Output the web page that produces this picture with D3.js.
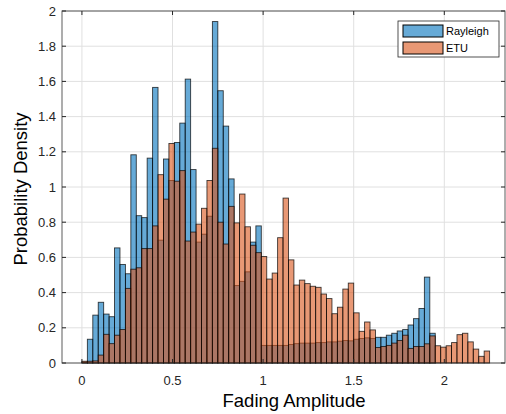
<!DOCTYPE html>
<html>
<head>
<meta charset="utf-8">
<script src="https://cdn.jsdelivr.net/npm/d3@7"></script>
<style>
  html, body { margin: 0; padding: 0; background: #fff; }
  svg { display: block; font-family: "Liberation Sans", Arial, Helvetica, sans-serif; }
</style>
</head>
<body>
<svg id="chart" width="506" height="414"></svg>
<script>
// Histogram bins: edges at k * binWidth, k = 0..75
const binWidth = 0.03;
const binCount = 75;

// Probability density per bin
const rayleigh = [
  0.005, 0.135, 0.272, 0.345, 0.278, 0.263, 0.654, 0.560, 0.507, 1.183,
  0.837, 0.826, 1.164, 1.566, 0.698, 1.159, 1.037, 1.253, 1.363, 1.613,
  1.099, 0.687, 0.732, 0.834, 1.940, 1.547, 1.346, 1.046, 0.440, 0.464,
  0.518, 0.687, 0.779, 0.100, 0.100, 0.100, 0.100, 0.100, 0.105, 0.110,
  0.113, 0.113, 0.113, 0.116, 0.116, 0.120, 0.120, 0.124, 0.128, 0.126,
  0.135, 0.139, 0.143, 0.139, 0.146, 0.146, 0.158, 0.169, 0.182, 0.190,
  0.216, 0.252, 0.310, 0.488, 0.169, 0, 0, 0, 0, 0,
  0, 0, 0, 0, 0
];
const etu = [
  0.010, 0.010, 0.012, 0.045, 0.163, 0.110, 0.158, 0.190, 0.424, 0.533,
  0.541, 0.650, 0.650, 0.779, 1.070, 0.931, 1.247, 1.033, 1.093, 0.693,
  0.744, 0.789, 0.879, 1.037, 1.220, 0.800, 0.676, 0.890, 0.796, 0.960,
  0.774, 0.669, 0.627, 0.605, 0.477, 0.511, 0.712, 0.937, 0.586, 0.443,
  0.471, 0.451, 0.436, 0.430, 0.392, 0.366, 0.280, 0.317, 0.420, 0.454,
  0.285, 0.180, 0.233, 0.188, 0.088, 0.094, 0.100, 0.113, 0.128, 0.158,
  0.083, 0.094, 0.094, 0.109, 0.154, 0.098, 0.090, 0.098, 0.116, 0.161,
  0.169, 0.120, 0.079, 0.038, 0.068
];

const seriesNames = ["Rayleigh", "ETU"];
const seriesColors = ["#0072BD", "#D95319"];
const xTicks = [0, 0.5, 1, 1.5, 2];
const yTicks = [0, 0.2, 0.4, 0.6, 0.8, 1, 1.2, 1.4, 1.6, 1.8, 2];
const xLimits = [-0.11, 2.335];
const yLimits = [0, 2];

const svg = d3.select("#chart");
const plot = { left: 62, right: 505, top: 11, bottom: 363 };

const x = d3.scaleLinear().domain(xLimits).range([plot.left, plot.right]);
const y = d3.scaleLinear().domain(yLimits).range([plot.bottom, plot.top]);

// grid
const grid = svg.append("g");
grid.selectAll("line.gx").data(xTicks).join("line")
  .attr("x1", d => x(d)).attr("x2", d => x(d))
  .attr("y1", plot.top).attr("y2", plot.bottom)
  .attr("stroke", "#e0e0e0").attr("stroke-width", 1);
grid.selectAll("line.gy").data(yTicks).join("line")
  .attr("x1", plot.left).attr("x2", plot.right)
  .attr("y1", d => y(d)).attr("y2", d => y(d))
  .attr("stroke", "#e0e0e0").attr("stroke-width", 1);

// bars: Rayleigh first, ETU drawn over it with transparency
const bins = d3.range(binCount).map(i => ({ x0: i * binWidth, x1: (i + 1) * binWidth }));
[rayleigh, etu].forEach((vals, si) => {
  svg.append("g").selectAll("rect")
    .data(bins.map((b, i) => ({ ...b, v: vals[i] })).filter(d => d.v > 0))
    .join("rect")
    .attr("x", d => x(d.x0))
    .attr("width", d => x(d.x1) - x(d.x0))
    .attr("y", d => y(d.v))
    .attr("height", d => y(0) - y(d.v))
    .attr("fill", seriesColors[si])
    .attr("fill-opacity", 0.6)
    .attr("stroke", "#000")
    .attr("stroke-opacity", 0.75)
    .attr("stroke-width", 0.9);
});

// axes box
const axisColor = "#262626";
svg.append("rect")
  .attr("x", plot.left).attr("y", plot.top)
  .attr("width", plot.right - plot.left).attr("height", plot.bottom - plot.top)
  .attr("fill", "none").attr("stroke", axisColor).attr("stroke-width", 1).attr("stroke-opacity", 0.75);

// inward ticks on all four sides
const tl = 4;
const ticks = svg.append("g").attr("stroke", axisColor).attr("stroke-width", 1);
xTicks.forEach(t => {
  ticks.append("line").attr("x1", x(t)).attr("x2", x(t)).attr("y1", plot.bottom).attr("y2", plot.bottom - tl);
  ticks.append("line").attr("x1", x(t)).attr("x2", x(t)).attr("y1", plot.top).attr("y2", plot.top + tl);
});
yTicks.forEach(t => {
  ticks.append("line").attr("x1", plot.left).attr("x2", plot.left + tl).attr("y1", y(t)).attr("y2", y(t));
  ticks.append("line").attr("x1", plot.right).attr("x2", plot.right - tl).attr("y1", y(t)).attr("y2", y(t));
});

// tick labels
svg.append("g").selectAll("text").data(xTicks).join("text")
  .attr("x", d => x(d)).attr("y", plot.bottom + 22)
  .attr("text-anchor", "middle").attr("font-size", 13).attr("fill", "#262626")
  .text(d => d3.format("~g")(d));
svg.append("g").selectAll("text").data(yTicks).join("text")
  .attr("x", plot.left - 6).attr("y", d => y(d) + 4.5)
  .attr("text-anchor", "end").attr("font-size", 13).attr("fill", "#262626")
  .text(d => d3.format("~g")(d));

// axis titles
svg.append("text")
  .attr("x", 294).attr("y", 407)
  .attr("text-anchor", "middle").attr("font-size", 18.5).attr("fill", "#000")
  .text("Fading Amplitude");
svg.append("text")
  .attr("transform", `translate(27, 189) rotate(-90)`)
  .attr("text-anchor", "middle").attr("font-size", 18.5).attr("fill", "#000")
  .text("Probability Density");

// legend
const lg = svg.append("g").attr("transform", "translate(398, 21)");
lg.append("rect").attr("width", 101).attr("height", 36)
  .attr("fill", "#fff").attr("stroke", "#262626").attr("stroke-width", 0.8);
seriesNames.forEach((name, i) => {
  lg.append("rect")
    .attr("x", 5).attr("y", 4 + i * 17).attr("width", 40).attr("height", 12)
    .attr("fill", seriesColors[i]).attr("fill-opacity", 0.6)
    .attr("stroke", "#000").attr("stroke-width", 1);
  lg.append("text")
    .attr("x", 48).attr("y", 14 + i * 17)
    .attr("font-size", 11).attr("fill", "#000")
    .text(name);
});
</script>
</body>
</html>
